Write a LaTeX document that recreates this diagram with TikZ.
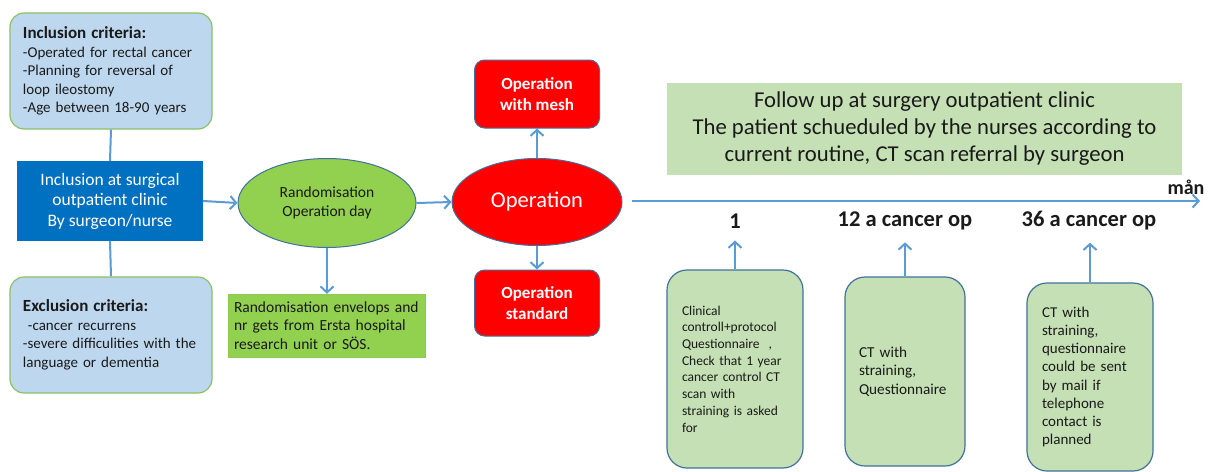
\documentclass[tikz,border=0pt]{standalone}
\usepackage{fontspec}
\setmainfont{Carlito}
\usetikzlibrary{shapes.geometric,arrows.meta}
\definecolor{lblue}{HTML}{BDD7EE}
\definecolor{gborder}{HTML}{8CC168}
\definecolor{dblue}{HTML}{0070C0}
\definecolor{bgreen}{HTML}{92D050}
\definecolor{lgreen}{HTML}{C5E0B4}
\definecolor{eborder}{HTML}{41719C}
\definecolor{arr}{HTML}{5B9BD5}
\definecolor{txt}{HTML}{1A1A1A}
\tikzset{
  critbox/.style={draw=gborder, line width=1.2pt, fill=lblue, rounded corners=14pt, minimum width=202pt, minimum height=116pt, align=left, text width=176pt, inner sep=0pt, text=txt, font=\fontsize{15}{18.5}\selectfont},
  opbox/.style={draw=eborder, line width=1pt, fill=red, rounded corners=10pt, minimum width=125pt, minimum height=68pt, align=center, text=white, font=\fontsize{17}{21}\selectfont\bfseries},
  fubox/.style={draw=eborder, line width=1.2pt, fill=lgreen, rounded corners=20pt, align=left, inner sep=0pt, text=txt},
  link/.style={draw=arr, line width=2pt},
  arrow/.style={link, -{Straight Barb[length=6pt,width=13pt,line width=2pt]}},
  tlabel/.style={font=\fontsize{22.5}{24}\selectfont\bfseries, text=txt, inner sep=2pt}
}
\begin{document}
\begin{tikzpicture}[x=1pt,y=-1pt]
\useasboundingbox (0,0) rectangle (1212,471);
\fill[white] (0,0) rectangle (1212,471);

\node[critbox] (inc) at (111,71) {{\bfseries\fontsize{17}{18.5}\selectfont Inclusion criteria:}\\-Operated for rectal cancer\\-Planning for reversal of\\loop ileostomy\\-Age between 18-90 years};
\node[critbox] (exc) at (111,335) {{\bfseries\fontsize{17}{18.5}\selectfont Exclusion criteria:}\\\ -cancer recurrens\\-severe difficulities with the\\language or dementia};
\node[fill=dblue, minimum width=186pt, minimum height=80pt, align=center, text=white, font=\fontsize{17.5}{20.5}\selectfont, inner sep=0pt] (incl) at (110,201) {Inclusion at surgical\\outpatient clinic\\By surgeon/nurse};

\node[ellipse, draw=eborder, line width=1pt, fill=bgreen, minimum width=178pt, minimum height=89pt, align=center, text=txt, font=\fontsize{15.5}{19}\selectfont, inner sep=0pt] (rand) at (327,203) {Randomisation\\Operation day};
\node[fill=bgreen, draw=bgreen!85!black!20!bgreen, minimum width=197pt, minimum height=63pt, text width=186pt, align=left, text=txt, font=\fontsize{15.5}{18.5}\selectfont, inner sep=0pt] (env) at (327,325.5) {Randomisation envelops and\\nr gets from Ersta hospital\\research unit or SÖS.};

\node[ellipse, draw=eborder, line width=1pt, fill=red, minimum width=170pt, minimum height=87pt, text=white, font=\fontsize{22.5}{24}\selectfont, inner sep=0pt] (op) at (537,202) {Operation};
\node[opbox] (mesh) at (537,94) {Operation\\with mesh};
\node[opbox, minimum height=66pt] (std) at (537,303) {Operation\\standard};

\node[fill=lgreen, minimum width=515pt, minimum height=92pt, align=center, text=txt, font=\fontsize{22.7}{27}\selectfont, inner sep=0pt] (fu) at (924.5,129) {Follow up at surgery outpatient clinic\\The patient schueduled by the nurses according to\\current routine, CT scan referral by surgeon};

\coordinate (tl0) at (632,201);
\coordinate (tl1) at (1200,201);
\node[font=\fontsize{20}{22}\selectfont\bfseries, text=txt, inner sep=0pt] (man) at (1186,187) {mån};

\node[tlabel] (l1) at (735,221) {1};
\node[tlabel] (l12) at (905,221) {12 a cancer op};
\node[tlabel] (l36) at (1089,221) {36 a cancer op};

\node[fubox, minimum width=136pt, minimum height=198pt, text width=106pt, font=\fontsize{13.5}{16.7}\selectfont] (b1) at (735,369) {Clinical\\controll+protocol\\Questionnaire\ \ ,\\Check that 1 year\\cancer control CT\\scan with\\straining\ is asked\\for};
\node[fubox, minimum width=120pt, minimum height=189pt, text width=92pt, font=\fontsize{15.2}{18.5}\selectfont] (b2) at (905,371.5) {CT with\\straining,\\Questionnaire};
\node[fubox, minimum width=126pt, minimum height=188pt, text width=96pt, font=\fontsize{15}{18.2}\selectfont] (b3) at (1090,377) {CT with\\straining,\\questionnaire\\could be sent\\by mail if\\telephone\\contact is\\planned};

\draw[link] (inc.south) -- (incl.north);
\draw[link] (incl.south) -- (exc.north);
\draw[arrow] (incl.east) -- (rand.west);
\draw[arrow] (rand.south) -- (env.north);
\draw[arrow] (rand.east) -- (op.west);
\draw[arrow] (op.north) -- (mesh.south);
\draw[arrow] (op.south) -- (std.north);
\draw[arrow] (tl0) -- (tl1);
\draw[arrow] (b1.north) -- ([yshift=-10pt]l1.south);
\draw[arrow] (b2.north) -- ([yshift=-10pt]l12.south -| b2.north);
\draw[arrow] (b3.north) -- ([yshift=-10pt]l36.south -| b3.north);
\end{tikzpicture}
\end{document}
